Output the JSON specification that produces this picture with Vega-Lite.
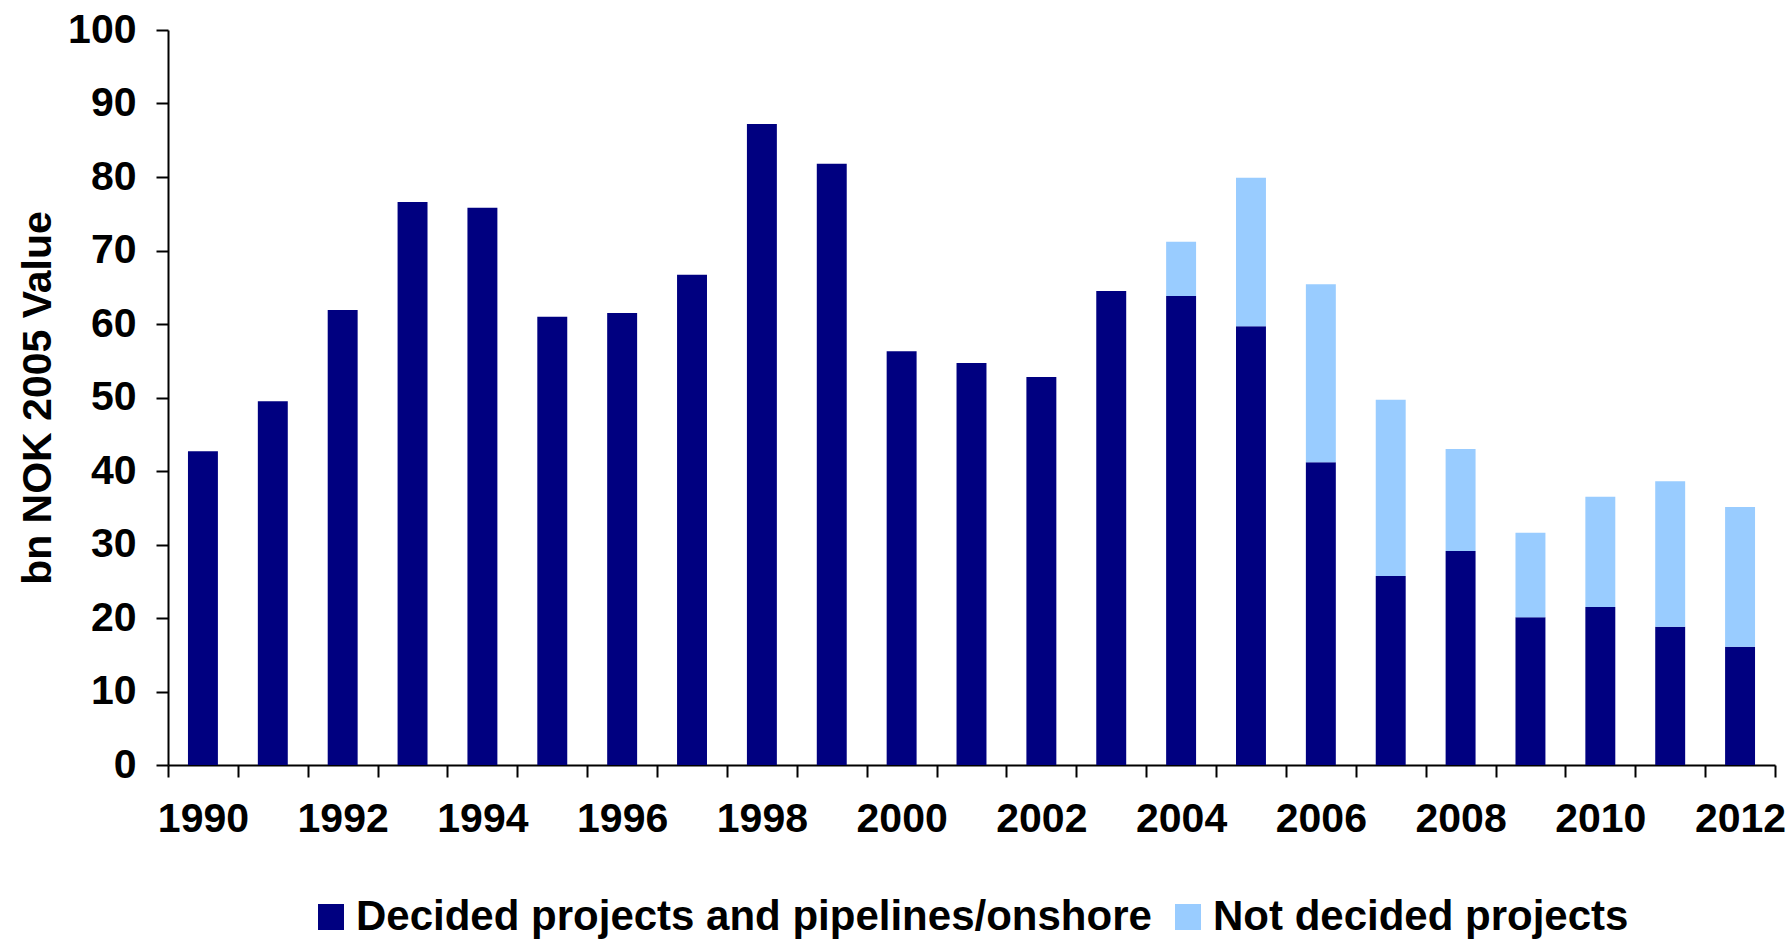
{
  "$schema": "https://vega.github.io/schema/vega-lite/v6.json",
  "width": 1607,
  "height": 735,
  "autosize": {"type": "none"},
  "padding": {"left": 168, "top": 30, "right": 16, "bottom": 176},
  "background": "white",
  "config": {"view": {"stroke": null}, "font": "Liberation Sans"},
  "data": {
    "values": [
      {"year": "1990", "category": "Decided projects and pipelines/onshore", "value": 42.7},
      {"year": "1991", "category": "Decided projects and pipelines/onshore", "value": 49.5},
      {"year": "1992", "category": "Decided projects and pipelines/onshore", "value": 61.9},
      {"year": "1993", "category": "Decided projects and pipelines/onshore", "value": 76.6},
      {"year": "1994", "category": "Decided projects and pipelines/onshore", "value": 75.8},
      {"year": "1995", "category": "Decided projects and pipelines/onshore", "value": 61.0},
      {"year": "1996", "category": "Decided projects and pipelines/onshore", "value": 61.5},
      {"year": "1997", "category": "Decided projects and pipelines/onshore", "value": 66.7},
      {"year": "1998", "category": "Decided projects and pipelines/onshore", "value": 87.2},
      {"year": "1999", "category": "Decided projects and pipelines/onshore", "value": 81.8},
      {"year": "2000", "category": "Decided projects and pipelines/onshore", "value": 56.3},
      {"year": "2001", "category": "Decided projects and pipelines/onshore", "value": 54.7},
      {"year": "2002", "category": "Decided projects and pipelines/onshore", "value": 52.8},
      {"year": "2003", "category": "Decided projects and pipelines/onshore", "value": 64.5},
      {"year": "2004", "category": "Decided projects and pipelines/onshore", "value": 63.8},
      {"year": "2005", "category": "Decided projects and pipelines/onshore", "value": 59.7},
      {"year": "2006", "category": "Decided projects and pipelines/onshore", "value": 41.2},
      {"year": "2007", "category": "Decided projects and pipelines/onshore", "value": 25.7},
      {"year": "2008", "category": "Decided projects and pipelines/onshore", "value": 29.1},
      {"year": "2009", "category": "Decided projects and pipelines/onshore", "value": 20.1},
      {"year": "2010", "category": "Decided projects and pipelines/onshore", "value": 21.5},
      {"year": "2011", "category": "Decided projects and pipelines/onshore", "value": 18.8},
      {"year": "2012", "category": "Decided projects and pipelines/onshore", "value": 16.1},
      {"year": "2004", "category": "Not decided projects", "value": 7.4},
      {"year": "2005", "category": "Not decided projects", "value": 20.2},
      {"year": "2006", "category": "Not decided projects", "value": 24.2},
      {"year": "2007", "category": "Not decided projects", "value": 24.0},
      {"year": "2008", "category": "Not decided projects", "value": 13.9},
      {"year": "2009", "category": "Not decided projects", "value": 11.5},
      {"year": "2010", "category": "Not decided projects", "value": 15.0},
      {"year": "2011", "category": "Not decided projects", "value": 19.8},
      {"year": "2012", "category": "Not decided projects", "value": 19.0}
    ]
  },
  "mark": {"type": "bar", "width": {"band": 0.4286}},
  "encoding": {
    "x": {
      "field": "year",
      "type": "ordinal",
      "scale": {"paddingInner": 0, "paddingOuter": 0},
      "axis": {
        "title": null,
        "tickBand": "extent",
        "labelExpr": "toNumber(datum.value) % 2 == 0 ? datum.label : ''",
        "labelAngle": 0,
        "labelOverlap": false,
        "labelFontSize": 41,
        "labelFontWeight": "bold",
        "labelColor": "black",
        "labelPadding": 22,
        "tickSize": 12,
        "tickWidth": 2,
        "tickColor": "black",
        "domainColor": "black",
        "domainWidth": 2
      }
    },
    "y": {
      "field": "value",
      "type": "quantitative",
      "stack": "zero",
      "scale": {"domain": [0, 100], "nice": false},
      "axis": {
        "title": "bn NOK 2005 Value",
        "titleFontSize": 41,
        "titleFontWeight": "bold",
        "titleColor": "black",
        "titlePadding": 8,
        "values": [0, 10, 20, 30, 40, 50, 60, 70, 80, 90, 100],
        "grid": false,
        "labelFontSize": 41,
        "labelFontWeight": "bold",
        "labelColor": "black",
        "labelPadding": 20,
        "tickSize": 12,
        "tickWidth": 2,
        "tickColor": "black",
        "domainColor": "black",
        "domainWidth": 2
      }
    },
    "color": {
      "field": "category",
      "type": "nominal",
      "scale": {
        "domain": ["Decided projects and pipelines/onshore", "Not decided projects"],
        "range": ["#000080", "#99CCFF"]
      },
      "legend": {
        "title": null,
        "orient": "none",
        "legendX": 142,
        "legendY": 866,
        "direction": "horizontal",
        "symbolType": "square",
        "symbolSize": 676,
        "symbolStrokeWidth": 0,
        "symbolOpacity": 1,
        "labelFontSize": 42,
        "labelFontWeight": "bold",
        "labelColor": "black",
        "labelOffset": 4,
        "labelLimit": 2000,
        "columnPadding": 15
      }
    },
    "order": {"field": "category", "sort": "ascending"}
  }
}
